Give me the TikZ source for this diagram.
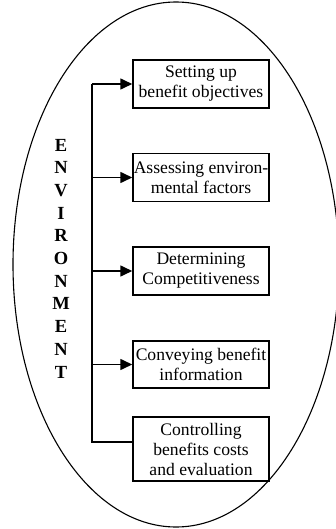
\documentclass[tikz,border=0pt]{standalone}
\usepackage{fontspec}
\setmainfont{Liberation Serif}
\usetikzlibrary{arrows.meta,positioning}

\begin{document}
\begin{tikzpicture}[x=1pt, y=-1pt, font=\fontsize{17.6}{20}\selectfont,
  every node/.style={align=center},
  stepbox/.style={draw, line width=1.5pt, minimum width=136pt, minimum height=48pt, inner sep=0pt},
  link/.style={line width=1.6pt}]
\useasboundingbox (0,0) rectangle (336,529);
\draw[line width=1.1pt] (176,264.5) ellipse [x radius=163, y radius=262.5];
\node[stepbox] (a) at (201,84) {Setting up\\benefit objectives};
\node[stepbox] (b) at (201,177.5) {Assessing environ-\\mental factors};
\node[stepbox] (c) at (201,271) {Determining\\Competitiveness};
\node[stepbox, minimum height=47pt] (d) at (201,364.5) {Conveying benefit\\information};
\node[stepbox, minimum height=64pt] (e) at (201,449) {Controlling\\benefits costs\\and evaluation};
\coordinate (top) at (92,84);
\coordinate (bot) at (92,442);
\draw[link] (top) -- (bot) -- (bot -| e.west);
\draw[link, -{Triangle[length=12pt, width=11pt]}] (top) -- (a);
\draw[link, -{Triangle[length=12pt, width=11pt]}] (92,177.5) -- (b);
\draw[link, -{Triangle[length=12pt, width=11pt]}] (92,271) -- (c);
\draw[link, -{Triangle[length=12pt, width=11pt]}] (92,364.5) -- (d);
\foreach \ch [count=\i from 0] in {E,N,V,I,R,O,N,M,E,N,T}
  \node[font=\fontsize{18.5}{18.5}\selectfont\bfseries, inner sep=0pt] (l\i) at (61,145+22.7*\i) {\ch};
\end{tikzpicture}
\end{document}
